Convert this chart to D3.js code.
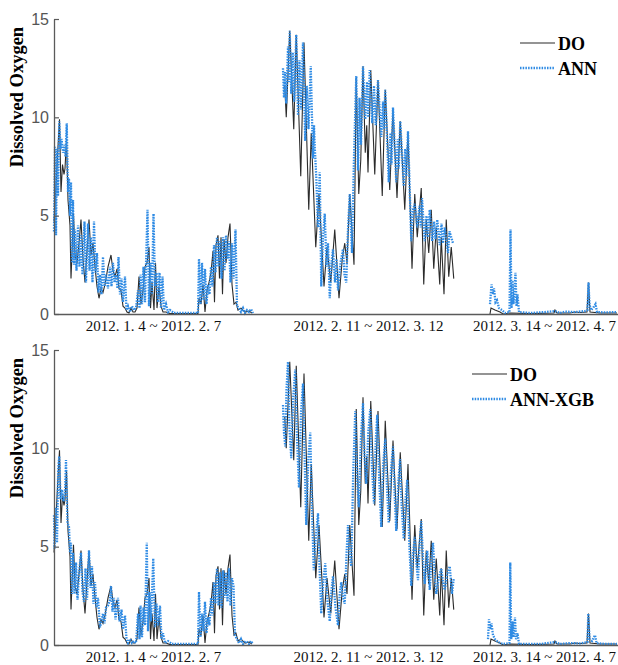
<!DOCTYPE html>
<html>
<head>
<meta charset="utf-8">
<script src="https://cdn.jsdelivr.net/npm/d3@7"></script>
<style>
  html, body { margin: 0; padding: 0; background: #fff; }
</style>
</head>
<body>
<div id="app"></div>
<script>
//#region 1. Data  (x = hours since 2012-01-04 00:00, y = dissolved oxygen)
const segmentLabels = ["2012. 1. 4 ~ 2012. 2. 7", "2012. 2. 11 ~ 2012. 3. 12", "2012. 3. 14 ~ 2012. 4. 7"]
const segmentLabelHours = [396, 1256, 1960]
const hourExtent = [0, 2256]
const yTicks = [0, 5, 10, 15]
const seriesNames = ["DO", "ANN", "ANN-XGB"]

const doSeg1 = [[0,4.7],[8,6.5],[16,8.5],[22,9.9],[28,6.2],[34,7.6],[40,7.1],[44,7.4],[50,8.9],[56,5.8],[64,4.5],[68,1.8],[72,3.1],[78,5.1],[84,3.0],[92,2.6],[100,3.6],[108,4.8],[116,2.8],[124,1.6],[132,3.2],[140,4.8],[148,3.0],[156,3.6],[164,2.4],[172,1.4],[180,0.8],[188,1.3],[196,1.1],[204,1.5],[216,2.4],[228,3.0],[236,2.2],[244,1.9],[252,2.3],[260,1.3],[268,1.2],[276,0.4],[284,0.3],[292,0.1],[300,0.05],[308,0.3],[316,0.1],[324,0.1],[332,0.3],[340,1.9],[348,0.5],[356,1.2],[364,2.4],[372,2.6],[380,3.4],[386,0.3],[392,1.6],[400,0.2],[406,2.6],[412,0.3],[420,1.4],[428,0.4],[436,0.1],[448,0.1],[464,0.02],[576,0.02],[580,0.8],[588,0.5],[596,1.5],[604,0.1],[612,1.2],[620,1.6],[628,2.1],[636,3.2],[642,0.6],[648,3.5],[656,4.0],[662,1.8],[668,3.9],[674,1.0],[680,3.8],[688,2.6],[696,3.9],[704,4.6],[712,1.5],[720,0.5],[728,0.6],[736,0.2],[748,0.3],[764,0.1],[780,0.15],[792,0.05]]
const doSeg2 = [[923,11.6],[929,10.0],[943,14.4],[959,9.4],[969,14.2],[987,7.0],[1000,13.8],[1019,5.3],[1029,9.2],[1047,3.4],[1060,6.1],[1080,1.4],[1092,3.4],[1107,1.6],[1123,4.3],[1140,0.8],[1153,2.8],[1163,3.6],[1172,2.6],[1183,6.1],[1200,2.5],[1209,12.0],[1219,6.1],[1227,7.8],[1236,12.6],[1245,8.2],[1251,9.6],[1256,7.2],[1267,12.4],[1283,7.1],[1296,11.9],[1313,6.0],[1325,11.4],[1343,6.3],[1356,10.4],[1372,5.9],[1385,9.8],[1403,5.3],[1416,9.2],[1432,2.3],[1443,6.1],[1453,3.9],[1469,6.4],[1479,1.5],[1489,4.8],[1499,3.1],[1509,5.3],[1519,2.3],[1529,4.4],[1543,1.5],[1549,3.9],[1560,1.0],[1569,4.8],[1579,1.9],[1589,3.4],[1599,1.8]]
const doSeg3 = [[1744,0],[1748,0.3],[1764,0.2],[1784,0.1],[1796,0],[1824,0.05],[1904,0.02],[2000,0.05],[2004,0.2],[2012,0.05],[2064,0.05],[2084,0.1],[2104,0.08],[2132,0.1],[2138,1.6],[2144,0.1],[2184,0.05],[2252,0.05]]

const annSeg1 = [[0,4.2],[4,8.5],[8,4.0],[12,8.4],[16,6.0],[21,9.8],[26,8.4],[30,8.9],[36,8.2],[42,8.6],[46,8.0],[51,9.7],[56,6.2],[60,6.9],[64,5.0],[68,6.7],[72,2.6],[76,5.8],[80,2.5],[84,4.3],[90,2.2],[96,4.5],[102,2.4],[108,4.0],[114,2.0],[122,4.7],[128,1.6],[136,4.6],[142,2.2],[148,3.9],[154,1.6],[160,4.7],[166,2.1],[172,3.1],[178,1.1],[184,2.0],[190,1.0],[196,2.9],[202,1.4],[208,2.0],[216,1.3],[224,2.4],[230,1.4],[236,2.6],[242,1.6],[248,2.0],[254,1.3],[258,2.9],[264,1.0],[270,1.8],[276,0.6],[284,1.9],[290,0.2],[296,0.4],[304,0.1],[312,0.4],[320,0.2],[328,0.3],[336,1.2],[342,0.3],[346,2.0],[352,0.5],[358,2.4],[364,0.6],[374,5.3],[380,0.4],[386,2.6],[392,1.0],[398,5.1],[404,1.4],[410,2.1],[416,0.6],[422,2.1],[428,0.3],[434,1.9],[440,0.2],[448,0.5],[456,0.1],[464,0.2],[480,0.05],[576,0.05],[580,2.8],[586,0.5],[592,2.6],[598,0.7],[604,2.3],[610,0.5],[616,1.5],[622,1.0],[628,2.4],[634,1.4],[640,3.5],[646,2.1],[652,3.9],[658,2.4],[664,3.7],[670,1.8],[676,3.9],[682,2.2],[688,4.0],[694,2.8],[700,3.7],[706,1.6],[712,3.6],[718,1.8],[726,4.3],[732,0.4],[740,0.3],[748,0.1],[756,0.3],[764,0.05],[772,0.2],[780,0.1],[788,0.25],[796,0.05]]
const annSeg2 = [[916,12.5],[920,11.0],[924,12.3],[929,10.7],[936,13.6],[940,11.8],[943,14.4],[949,11.2],[955,13.3],[961,10.8],[969,14.2],[976,10.1],[982,12.9],[988,10.4],[996,13.8],[1005,8.8],[1011,11.6],[1018,9.4],[1027,12.6],[1036,7.9],[1040,9.6],[1043,8.5],[1049,7.0],[1056,4.4],[1063,7.2],[1069,1.4],[1076,3.9],[1083,5.1],[1090,2.4],[1096,3.6],[1103,0.8],[1110,2.6],[1116,3.3],[1124,1.6],[1130,2.8],[1136,1.2],[1146,2.6],[1156,3.3],[1162,2.0],[1169,1.6],[1176,4.3],[1183,6.1],[1192,3.1],[1200,8.0],[1209,12.1],[1216,7.3],[1222,11.0],[1228,8.6],[1236,12.6],[1245,9.9],[1252,11.8],[1257,10.0],[1263,12.4],[1273,9.7],[1280,11.6],[1287,9.6],[1296,11.9],[1309,9.0],[1316,10.8],[1320,9.4],[1325,11.4],[1339,6.7],[1346,9.2],[1350,7.6],[1356,10.5],[1369,6.7],[1375,8.9],[1379,7.4],[1385,9.8],[1399,6.5],[1405,8.4],[1409,7.0],[1416,9.3],[1429,3.7],[1436,5.3],[1443,5.6],[1453,4.4],[1462,5.5],[1467,4.4],[1472,5.9],[1483,3.7],[1490,5.0],[1496,3.9],[1503,5.3],[1513,3.7],[1520,4.7],[1526,3.8],[1533,4.8],[1543,3.5],[1550,4.6],[1556,3.6],[1563,4.4],[1576,3.1],[1582,4.2],[1589,3.9],[1596,3.6]]
const annSeg3 = [[1744,0.5],[1750,1.5],[1756,1.0],[1760,1.3],[1766,0.6],[1772,0.7],[1780,0.3],[1792,0.2],[1804,0.05],[1822,0.1],[1826,4.3],[1830,0.3],[1834,1.7],[1838,0.5],[1842,1.3],[1846,2.1],[1850,0.4],[1854,1.0],[1860,0.1],[1904,0.05],[1964,0.1],[2004,0.15],[2024,0.05],[2044,0.12],[2084,0.1],[2124,0.15],[2134,0.2],[2138,1.6],[2142,0.5],[2148,0.2],[2156,0.3],[2166,0.5],[2172,0.1],[2204,0.08],[2252,0.1]]

const xgbSeg1 = [[0,6.6],[2,4.9],[8,7.0],[12,5.2],[17,9.0],[21,9.6],[26,7.4],[32,7.9],[38,7.3],[44,7.8],[48,9.4],[54,6.2],[60,6.0],[64,4.7],[68,5.2],[72,2.6],[76,4.7],[82,2.6],[88,4.2],[94,2.3],[100,3.6],[108,4.7],[114,2.7],[120,2.2],[126,3.9],[132,2.3],[140,4.8],[146,2.9],[152,4.0],[158,2.1],[164,3.2],[170,1.9],[176,2.4],[184,0.9],[190,1.2],[196,1.6],[202,1.1],[208,1.9],[216,2.0],[224,2.3],[228,3.0],[234,1.7],[240,2.4],[246,1.3],[256,2.4],[262,1.2],[270,1.8],[276,0.8],[284,1.5],[290,0.3],[296,0.1],[304,0.3],[312,0.1],[320,0.2],[328,0.1],[336,1.6],[342,0.3],[346,2.0],[352,0.4],[358,1.9],[364,1.0],[371,5.2],[376,0.7],[382,2.7],[388,1.2],[397,4.4],[404,0.9],[410,2.1],[416,1.0],[424,2.0],[430,0.3],[436,0.6],[444,0.1],[456,0.2],[472,0.05],[576,0.05],[580,2.7],[586,0.4],[592,1.6],[598,0.7],[604,2.2],[610,0.6],[616,1.4],[622,1.0],[628,2.4],[634,1.5],[640,3.2],[646,2.1],[652,3.9],[658,2.0],[664,3.7],[670,1.9],[676,3.8],[682,2.4],[688,3.7],[694,2.2],[700,3.9],[706,2.0],[712,3.4],[718,3.0],[724,0.5],[732,0.3],[740,0.1],[748,0.3],[756,0.05],[768,0.2],[780,0.05],[788,0.2],[796,0.05]]
const xgbSeg2 = [[916,12.2],[920,10.8],[925,10.1],[930,13.0],[936,14.4],[942,11.0],[949,9.5],[957,12.6],[965,14.0],[972,10.5],[980,8.0],[988,11.8],[996,13.3],[1002,9.8],[1009,6.1],[1017,9.4],[1025,10.8],[1032,6.9],[1039,3.8],[1048,5.6],[1056,6.7],[1062,4.0],[1069,1.6],[1077,3.2],[1085,4.15],[1094,2.2],[1103,1.2],[1110,2.8],[1116,3.5],[1126,1.9],[1136,1.0],[1143,2.6],[1149,3.2],[1156,2.4],[1163,2.1],[1170,4.6],[1176,6.1],[1182,4.6],[1189,4.0],[1197,8.8],[1205,11.9],[1212,8.6],[1219,7.0],[1228,10.6],[1236,12.3],[1242,9.6],[1249,8.2],[1257,10.8],[1265,12.0],[1272,9.0],[1280,7.2],[1287,10.4],[1293,11.7],[1301,8.4],[1309,6.0],[1317,9.2],[1325,10.5],[1332,8.0],[1339,6.2],[1348,8.9],[1356,10.1],[1362,7.8],[1369,5.8],[1377,8.2],[1384,9.45],[1391,7.0],[1399,5.4],[1406,7.4],[1413,8.4],[1421,5.2],[1429,3.0],[1436,4.6],[1443,5.5],[1450,4.1],[1456,3.3],[1463,5.2],[1469,6.3],[1476,4.4],[1483,3.1],[1493,4.8],[1503,2.8],[1510,4.4],[1516,5.2],[1522,3.8],[1529,2.6],[1539,3.4],[1549,3.9],[1556,3.2],[1563,2.8],[1573,3.6],[1583,4.0],[1592,2.6],[1599,3.4]]
const xgbSeg3 = [[1736,0.3],[1740,1.3],[1746,0.8],[1750,1.1],[1756,0.5],[1764,0.3],[1776,0.15],[1796,0.05],[1822,0.1],[1825,4.2],[1829,0.3],[1834,1.2],[1838,0.4],[1844,1.4],[1848,0.3],[1854,0.6],[1860,0.05],[1944,0.05],[2004,0.15],[2024,0.05],[2064,0.1],[2104,0.08],[2134,0.15],[2137,1.6],[2142,0.3],[2152,0.2],[2164,0.5],[2170,0.1],[2204,0.05],[2252,0.05]]
//#endregion

//#region 2. Dimensions
const width = 618
const height = 665
const margin = { left: 54, right: 0 }
const panelHeight = 295
const panels = [
  { top: 19, model: seriesNames[1], observed: [doSeg1, doSeg2, doSeg3], predicted: [annSeg1, annSeg2, annSeg3], legendX: 520 },
  { top: 350, model: seriesNames[2], observed: [doSeg1, doSeg2, doSeg3], predicted: [xgbSeg1, xgbSeg2, xgbSeg3], legendX: 472 },
]
const blue = "#2f8be4"
const axisColor = "#5a5a5a"
const serif = "'Liberation Serif', 'Times New Roman', serif"
//#endregion

//#region 3. Canvas
const svg = d3.select("#app")
  .append("svg")
    .attr("width", width)
    .attr("height", height)
    .style("display", "block")
//#endregion

//#region 4. Scales
const xScale = d3.scaleLinear()
  .domain(hourExtent)
  .range([margin.left, width - margin.right])

const yScale = d3.scaleLinear()
  .domain([0, 15])
  .range([panelHeight, 0])

const lineGen = d3.line()
  .x(d => xScale(d[0]))
  .y(d => yScale(d[1]))
//#endregion

//#region 5. Panels
panels.forEach(p => {
  const g = svg.append("g")
    .attr("transform", `translate(0, ${p.top})`)

  // observed DO
  g.append("g").selectAll("path")
    .data(p.observed)
    .join("path")
      .attr("d", lineGen)
      .attr("fill", "none")
      .attr("stroke", "#2b2b2b")
      .attr("stroke-width", 1.1)

  // model prediction, dotted
  g.append("g").selectAll("path")
    .data(p.predicted)
    .join("path")
      .attr("d", lineGen)
      .attr("fill", "none")
      .attr("stroke", blue)
      .attr("stroke-width", 2.3)
      .attr("stroke-dasharray", "1.5 1.2")

  // y axis
  const yAxis = g.append("g")
    .attr("transform", `translate(${margin.left}, 0)`)
    .call(d3.axisLeft(yScale).tickValues(yTicks).tickSizeInner(-5).tickSizeOuter(0).tickPadding(5))
  yAxis.select(".domain").attr("stroke", axisColor).attr("stroke-width", 1.3)
  yAxis.selectAll(".tick line").attr("stroke", axisColor).attr("stroke-width", 1.2)
  yAxis.selectAll(".tick text")
    .attr("fill", "#555")
    .style("font-family", "'Liberation Sans', Arial, sans-serif")
    .style("font-size", "16px")

  // x axis with the period labels
  const xAxis = g.append("g")
    .attr("transform", `translate(0, ${panelHeight})`)
    .call(d3.axisBottom(xScale).tickValues(segmentLabelHours)
      .tickFormat((d, i) => segmentLabels[i]).tickSize(0).tickPadding(6))
  xAxis.select(".domain").attr("stroke", axisColor).attr("stroke-width", 1.3)
  xAxis.selectAll(".tick text")
    .attr("fill", "#111")
    .style("font-family", serif)
    .style("font-size", "15px")

  // y label
  g.append("text")
    .attr("transform", `translate(23, 78) rotate(-90)`)
    .attr("text-anchor", "middle")
    .style("font-family", serif)
    .style("font-weight", "bold")
    .style("font-size", "18.5px")
    .text("Dissolved Oxygen")

  // legend
  const legend = g.append("g")
    .attr("transform", `translate(${p.legendX}, 24)`)
  const items = [seriesNames[0], p.model]
  items.forEach((name, i) => {
    const row = legend.append("g").attr("transform", `translate(0, ${i * 25})`)
    row.append("line")
      .attr("x1", 0).attr("x2", 35)
      .attr("stroke", i === 0 ? "#2b2b2b" : blue)
      .attr("stroke-width", i === 0 ? 1.1 : 2.3)
      .attr("stroke-dasharray", i === 0 ? null : "1.5 1.2")
    row.append("text")
      .attr("x", 38)
      .attr("y", 6.5)
      .style("font-family", serif)
      .style("font-weight", "bold")
      .style("font-size", "18px")
      .text(name)
  })
})
//#endregion
</script>
</body>
</html>
